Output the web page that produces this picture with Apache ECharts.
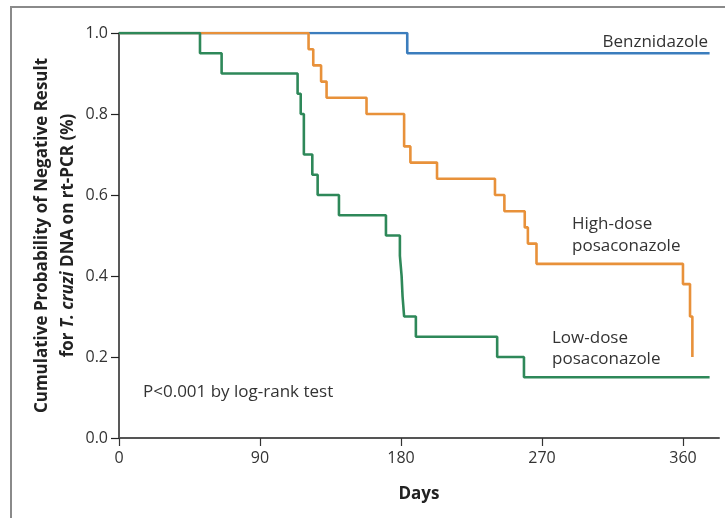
<!DOCTYPE html>
<html>
<head>
<meta charset="utf-8">
<script src="https://cdn.jsdelivr.net/npm/echarts@6/dist/echarts.min.js"></script>
<style>
  html, body { margin: 0; padding: 0; background: #fff; }
  #chart { width: 725px; height: 518px; }
</style>
</head>
<body>
<div id="chart"></div>
<script>
// Kaplan-Meier step points: [day, probability after the step]
var benzDays = [0, 184, 377];
var benzProb = [1.0, 0.95, 0.95];

var highDays = [0, 121, 124, 129, 132.5, 158, 182, 186, 203, 240, 246, 259, 261, 266.5, 360, 364.5, 366];
var highProb = [1.0, 0.96, 0.92, 0.88, 0.84, 0.80, 0.72, 0.68, 0.64, 0.60, 0.56, 0.52, 0.48, 0.43, 0.38, 0.30, 0.20];

var lowDays = [0, 51.7, 65.5, 114, 116, 118, 123.4, 126.8, 140.4, 170.4, 179.3, 180.4, 181, 182, 189.5, 241.4, 258.5, 377];
var lowProb = [1.0, 0.95, 0.90, 0.85, 0.80, 0.70, 0.65, 0.60, 0.55, 0.50, 0.45, 0.40, 0.35, 0.30, 0.25, 0.20, 0.15, 0.15];

var xTicks = [0, 90, 180, 270, 360];

function pairs(xs, ys) {
  return xs.map(function (x, i) { return [x, ys[i]] })
}

var font = '"Open Sans", Lato, sans-serif';
var textColor = '#333';

var chart = echarts.init(document.getElementById('chart'));
chart.setOption({
  backgroundColor: '#fff',
  animation: false,
  textStyle: { fontFamily: font },
  grid: { left: 119, right: 6, top: 33, bottom: 80 },
  xAxis: {
    type: 'value',
    min: 0,
    max: 383,
    name: 'Days',
    nameLocation: 'middle',
    nameGap: 48,
    nameTextStyle: { fontFamily: font, fontWeight: 'bold', fontSize: 17, color: '#222' },
    axisLine: { lineStyle: { color: '#555', width: 2 } },
    axisTick: { show: true, length: 8, lineStyle: { color: '#333', width: 1.2 }, customValues: xTicks },
    axisLabel: { fontFamily: font, fontSize: 16, color: textColor, margin: 12, customValues: xTicks },
    splitLine: { show: false }
  },
  yAxis: {
    type: 'value',
    min: 0,
    max: 1,
    interval: 0.2,
    name: '{a|Cumulative Probability of Negative Result}\n{a|for }{i|T. cruzi}{a| DNA on rt-PCR (%)}',
    nameLocation: 'middle',
    nameRotate: 90,
    nameGap: 38,
    nameMoveOverlap: false,
    nameTextStyle: {
      fontFamily: font,
      fontWeight: 'bold',
      fontSize: 17,
      color: '#222',
      lineHeight: 26,
      rich: {
        a: { fontFamily: font, fontWeight: 'bold', fontSize: 17, color: '#222', lineHeight: 26 },
        i: { fontFamily: font, fontWeight: 'bold', fontStyle: 'italic', fontSize: 17, color: '#222', lineHeight: 26 }
      }
    },
    axisLine: { show: true, lineStyle: { color: '#222', width: 1.5 } },
    axisTick: { show: true, length: 8, lineStyle: { color: '#222', width: 1.2 } },
    axisLabel: {
      fontFamily: font, fontSize: 16, color: textColor, margin: 11,
      formatter: function (v) { return v.toFixed(1) }
    },
    splitLine: { show: false }
  },
  series: [{
    name: 'Benznidazole',
    type: 'line',
    step: 'end',
    symbol: 'none',
    lineStyle: { color: '#3b7dbd', width: 2.6 },
    data: pairs(benzDays, benzProb)
  }, {
    name: 'High-dose posaconazole',
    type: 'line',
    step: 'end',
    symbol: 'none',
    lineStyle: { color: '#e8913a', width: 2.6 },
    data: pairs(highDays, highProb)
  }, {
    name: 'Low-dose posaconazole',
    type: 'line',
    step: 'end',
    symbol: 'none',
    lineStyle: { color: '#2e8859', width: 2.6 },
    data: pairs(lowDays, lowProb)
  }],
  graphic: [{
    type: 'rect',
    shape: { x: 11, y: 7, width: 800, height: 600 },
    style: { fill: 'none', stroke: '#8a8a8a', lineWidth: 2 },
    silent: true
  }, {
    type: 'text',
    x: 708, y: 42,
    style: { text: 'Benznidazole', font: '17px ' + font, fill: textColor, textAlign: 'right', textVerticalAlign: 'middle' }
  }, {
    type: 'text',
    x: 572, y: 213,
    style: { text: 'High-dose\nposaconazole', font: '17px ' + font, fill: textColor, lineHeight: 22, textAlign: 'left', textVerticalAlign: 'top' }
  }, {
    type: 'text',
    x: 552, y: 328,
    style: { text: 'Low-dose\nposaconazole', font: '17px ' + font, fill: textColor, lineHeight: 21, textAlign: 'left', textVerticalAlign: 'top' }
  }, {
    type: 'text',
    x: 143, y: 392,
    style: { text: 'P<0.001 by log-rank test', font: '17px ' + font, fill: textColor, textAlign: 'left', textVerticalAlign: 'middle' }
  }]
});
</script>
</body>
</html>
